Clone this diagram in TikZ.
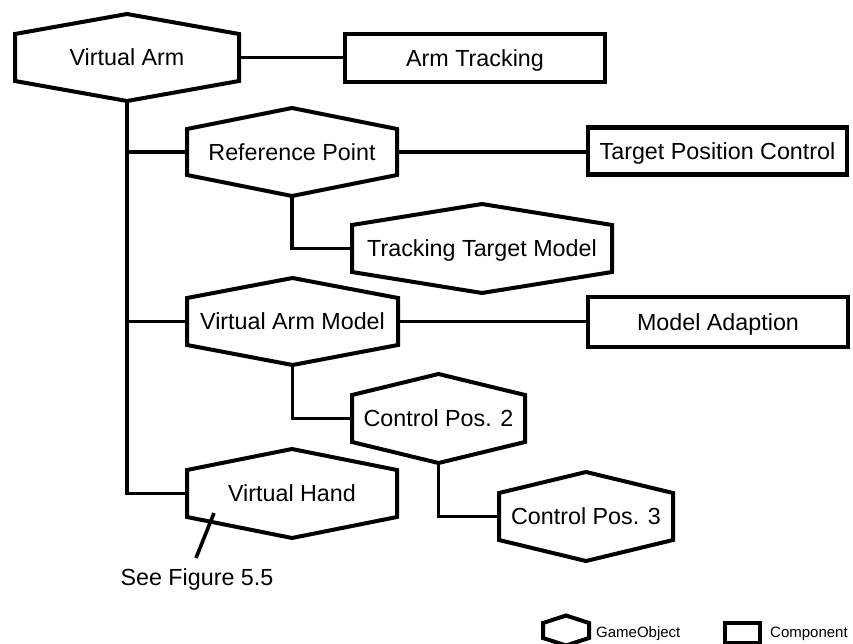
\documentclass[tikz,border=0pt]{standalone}
\usepackage{fontspec}
\setmainfont{Liberation Sans}
\tikzset{
  label font/.style={font=\fontsize{23.3}{28}\selectfont, text height=16.7pt, text depth=0pt},
  gobj/.style={label font, draw=none, inner sep=0pt, outer sep=0pt, align=center},
  hexline/.style={draw=black, line width=4pt, fill=white, line join=miter},
  comp/.style={label font, draw=black, line width=4.5pt, fill=white, inner sep=0pt, outer sep=0pt},
  link/.style={draw=black, line width=3.6pt},
  legend text/.style={font=\fontsize{15}{18}\selectfont, anchor=west, inner sep=0pt, text height=10.7pt, text depth=0pt},
}
% game object: hexagon with vertical sides and a pointed top and bottom
% #1 name, #2 x, #3 y, #4 width, #5 side height, #6 apex rise, #7 text
\newcommand\gameobject[7]{%
  \path[hexline] ([shift={(-#4/2,-#5/2)}]#2,#3) -- ([shift={(0,-#5/2-#6)}]#2,#3)
    -- ([shift={(#4/2,-#5/2)}]#2,#3) -- ([shift={(#4/2,#5/2)}]#2,#3)
    -- ([shift={(0,#5/2+#6)}]#2,#3) -- ([shift={(-#4/2,#5/2)}]#2,#3) -- cycle;
  \node[gobj, minimum width=#4pt, minimum height=#5pt] (#1) at (#2,#3) {#7};
  \coordinate (#1-top) at ([shift={(0,-#5/2-#6)}]#2,#3);
  \coordinate (#1-bot) at ([shift={(0,#5/2+#6)}]#2,#3);
}
\begin{document}
\begin{tikzpicture}[x=1pt,y=-1pt]
\path[use as bounding box, fill=white] (0,0) rectangle (853,644);

% game objects
\gameobject{va}{127}{57.5}{224}{47}{20}{Virtual Arm}
\gameobject{rp}{292}{152}{210}{46}{21}{Reference Point}
\gameobject{ttm}{482}{248.5}{260}{47}{21}{Tracking Target Model}
\gameobject{vam}{292.5}{321.5}{211}{47}{20}{Virtual Arm Model}
\gameobject{cp2}{438.5}{418.5}{173}{47}{21}{Control Pos. 2}
\gameobject{cp3}{586}{516.5}{174}{47}{21}{Control Pos. 3}
\gameobject{vh}{292}{493.5}{210}{47}{21}{Virtual Hand}

% components
\node[comp, minimum width=260pt, minimum height=48pt] (at) at (475,58) {Arm Tracking};
\node[comp, minimum width=259pt, minimum height=47pt] (tpc) at (717.5,151) {Target Position Control};
\node[comp, minimum width=260pt, minimum height=50pt] (ma) at (718,322) {Model Adaption};

% hierarchy links
\draw[link] (va.east) -- (va.east -| at.west);
\draw[link] (va-bot) |- (rp.west);
\draw[link] (va-bot) |- (vam.west);
\draw[link] (va-bot) |- (vh.west);
\draw[link] (rp.east) -- (rp.east -| tpc.west);
\draw[link] (rp-bot) |- (ttm.west);
\draw[link] (vam.east) -- (vam.east -| ma.west);
\draw[link] (vam-bot) |- (cp2.west);
\draw[link] (cp2-bot) |- (cp3.west);

% note on the hand
\coordinate (handnote) at (214,513);
\node[label font, inner sep=0pt] (see) at (197,577) {See Figure 5.5};
\draw[link] (handnote) -- (196,558);

% legend
\gameobject{lgo}{566}{630.5}{46}{15}{7.5}{}
\node[legend text] (lgotext) at (596,632) {GameObject};
\node[draw=black, line width=4.5pt, fill=white, minimum width=35pt, minimum height=20pt, inner sep=0pt] (lcomp) at (742.5,633) {};
\node[legend text] (lcomptext) at (770,632) {Component};
\end{tikzpicture}
\end{document}
